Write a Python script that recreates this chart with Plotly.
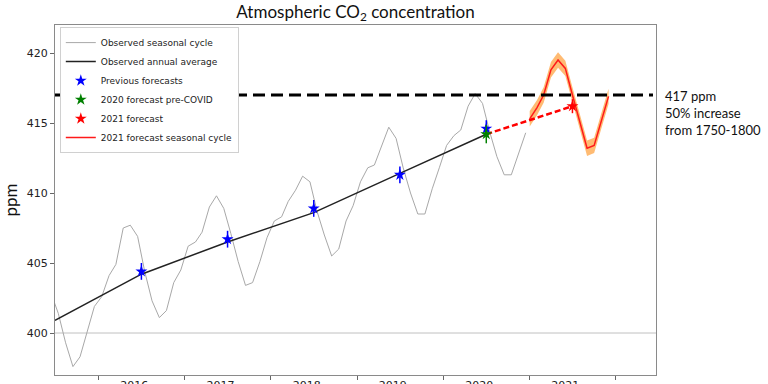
import pandas as pd
import plotly.graph_objects as go

# Observed monthly means (ppm), Jun 2015 .. Dec 2020, plotted mid-month
obs_months = pd.date_range("2015-06-01", "2020-12-01", freq="MS") + pd.Timedelta(days=14)
obs_monthly = [
    402.8, 401.4, 399.3, 397.6, 398.3, 400.2, 401.9,                  # 2015 Jun-Dec
    402.6, 404.1, 404.9, 407.5, 407.7, 406.9, 404.4, 402.3, 401.1, 401.6, 403.6, 404.5,  # 2016
    406.2, 406.5, 407.2, 409.0, 409.8, 408.9, 407.1, 405.1, 403.4, 403.6, 405.1, 406.8,  # 2017
    408.0, 408.3, 409.4, 410.2, 411.2, 410.8, 408.7, 407.0, 405.5, 406.0, 408.0, 409.1,  # 2018
    410.8, 411.8, 412.0, 413.3, 414.7, 413.9, 411.8, 410.0, 408.5, 408.5, 410.3, 411.8,  # 2019
    413.4, 414.1, 414.5, 416.2, 417.1, 416.4, 414.4, 412.6, 411.3, 411.3, 412.9, 414.3,  # 2020
]

# Observed annual averages, plotted mid-year
avg_dates = ["2015-07-01", "2016-07-01", "2017-07-01", "2018-07-01", "2019-07-01", "2020-07-01"]
avg_values = [400.9, 404.2, 406.5, 408.6, 411.4, 414.2]

# Forecasts (ppm) and their uncertainty
prev_dates = ["2016-07-01", "2017-07-01", "2018-07-01", "2019-07-01", "2020-07-01"]
prev_values = [404.4, 406.7, 408.9, 411.3, 414.6]
prev_err = [0.6, 0.6, 0.6, 0.6, 0.6]
precovid_date = ["2020-07-01"]
precovid_value = [414.2]
precovid_err = [0.65]
f2021_date = ["2021-07-01"]
f2021_value = [416.2]
f2021_err = [0.5]

# 2021 forecast seasonal cycle, plotted at month start
fc_months = pd.date_range("2021-01-01", "2021-12-01", freq="MS")
fc_values = [415.3, 416.1, 417.0, 418.8, 419.5, 418.9, 417.0, 415.1, 413.2, 413.4, 415.1, 416.9]
fc_unc = 0.55

threshold = 417
years = ["2016", "2017", "2018", "2019", "2020", "2021"]
year_label_dates = [f"{y}-06-01" for y in years]

TICK_FONT = dict(family="DejaVu Sans", size=11, color="#222222")
TEXT_FONT = "Lato, Open Sans, sans-serif"

fig = go.Figure()

fc_hi = [v + fc_unc for v in fc_values]
fc_lo = [v - fc_unc for v in fc_values]
fig.add_trace(go.Scatter(
    x=list(fc_months) + list(fc_months[::-1]), y=fc_hi + fc_lo[::-1],
    fill="toself", fillcolor="rgba(255,150,40,0.65)", line=dict(width=0),
    mode="lines", showlegend=False, hoverinfo="skip",
))
fig.add_trace(go.Scatter(
    x=obs_months, y=obs_monthly, mode="lines", name="Observed seasonal cycle",
    line=dict(color="#a8a8a8", width=1), legendrank=1,
))
fig.add_trace(go.Scatter(
    x=avg_dates, y=avg_values, mode="lines", name="Observed annual average",
    line=dict(color="#222222", width=1.5), legendrank=2,
))
fig.add_trace(go.Scatter(
    x=[precovid_date[0], f2021_date[0]], y=[precovid_value[0], f2021_value[0]],
    mode="lines", line=dict(color="#ff0000", width=2.5, dash="6px,3px"),
    showlegend=False, hoverinfo="skip",
))
fig.add_trace(go.Scatter(
    x=fc_months, y=fc_values, mode="lines", name="2021 forecast seasonal cycle",
    line=dict(color="#ff1a1a", width=1.5), legendrank=6,
))
fig.add_trace(go.Scatter(
    x=prev_dates, y=prev_values, mode="markers", name="Previous forecasts",
    marker=dict(symbol="star", size=9, color="#0000ff"),
    error_y=dict(type="data", array=prev_err, color="#0000ff", thickness=1.5, width=0),
    legendrank=3,
))
fig.add_trace(go.Scatter(
    x=precovid_date, y=precovid_value, mode="markers", name="2020 forecast pre-COVID",
    marker=dict(symbol="star", size=9, color="#008000"),
    error_y=dict(type="data", array=precovid_err, color="#008000", thickness=1.5, width=0),
    legendrank=4,
))
fig.add_trace(go.Scatter(
    x=f2021_date, y=f2021_value, mode="markers", name="2021 forecast",
    marker=dict(symbol="star", size=9, color="#ff0000"),
    error_y=dict(type="data", array=f2021_err, color="#ff0000", thickness=1.5, width=0),
    legendrank=5,
))

fig.add_hline(y=400, line=dict(color="#c0c0c0", width=1), layer="below")
fig.add_hline(y=threshold, line=dict(color="#000000", width=3, dash="12px,6px"),
              layer="above", x0=0, x1=0.995)
fig.add_annotation(
    xref="paper", yref="y", x=1.012, y=threshold, yshift=9,
    xanchor="left", yanchor="top", align="left", showarrow=False,
    text=f"{threshold} ppm<br>50% increase<br>from 1750-1800",
    font=dict(family=TEXT_FONT, size=13, color="#111111"),
)

fig.update_layout(
    width=768, height=384,
    margin=dict(l=55, r=112, t=25, b=9),
    paper_bgcolor="white", plot_bgcolor="white",
    title=dict(text="Atmospheric CO<sub>2</sub> concentration", x=0.5, xref="paper",
               y=0.969, yref="container", yanchor="middle",
               font=dict(family=TEXT_FONT, size=17, color="#111111")),
    legend=dict(x=0.008, y=0.994, xanchor="left", yanchor="top",
                bgcolor="white", bordercolor="#d0d0d0", borderwidth=1,
                font=dict(family="DejaVu Sans", size=9, color="#222222")),
    showlegend=True,
)
fig.update_xaxes(
    type="date", range=["2015-07-01", "2022-06-20"], automargin=False,
    tickvals=year_label_dates, ticktext=years,
    ticks="", tickfont=TICK_FONT,
    minor=dict(dtick="M12", tick0="2016-01-01", ticks="outside", ticklen=4,
               tickcolor="#666666", showgrid=False),
    showgrid=False, zeroline=False,
    showline=True, linecolor="#8a8a8a", linewidth=1, mirror=True,
)
fig.update_yaxes(
    range=[397, 422], tickvals=[400, 405, 410, 415, 420], automargin=False,
    ticks="outside", ticklen=4, tickcolor="#666666", tickfont=TICK_FONT,
    showgrid=False, zeroline=False,
    showline=True, linecolor="#8a8a8a", linewidth=1, mirror=True,
    title=dict(text="ppm", standoff=6, font=dict(family=TEXT_FONT, size=17, color="#111111")),
)

fig.write_html("out.html", config={"displayModeBar": False},
               post_script="document.body.style.margin='0';")
